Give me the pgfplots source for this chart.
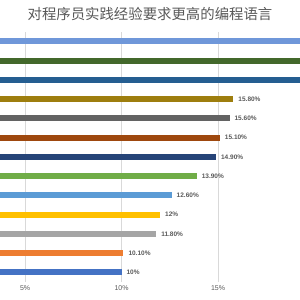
\documentclass[border=0pt]{standalone}
\usepackage{pgfplots}
\pgfplotsset{compat=1.18}
\usepackage{fontspec}
\setmainfont{Liberation Sans}
\newfontfamily\cjk{Noto Sans CJK SC}
\definecolor{c1}{HTML}{6F97D9}
\definecolor{c2}{HTML}{43682B}
\definecolor{c3}{HTML}{255E91}
\definecolor{c4}{HTML}{9E7E0E}
\definecolor{c5}{HTML}{636363}
\definecolor{c6}{HTML}{9E480E}
\definecolor{c7}{HTML}{264478}
\definecolor{c8}{HTML}{70AD47}
\definecolor{c9}{HTML}{5B9BD5}
\definecolor{c10}{HTML}{FFC000}
\definecolor{c11}{HTML}{A5A5A5}
\definecolor{c12}{HTML}{ED7D31}
\definecolor{c13}{HTML}{4472C4}
\definecolor{txt}{HTML}{595959}
\begin{document}
\begin{tikzpicture}
\useasboundingbox (0pt,0pt) rectangle (300pt,-300pt);
\node[font=\cjk\fontsize{14.4}{16}\selectfont, text=txt] at (150pt,-14pt) {对程序员实践经验要求更高的编程语言};
\begin{axis}[
  at={(0pt,-282pt)}, anchor=south west,
  scale only axis, width=300pt, height=250.25pt,
  xmin=3.7, xmax=19.25, ymin=-0.5, ymax=12.5,
  xbar, bar width=6pt, bar shift=0pt,
  axis line style={draw=none},
  ytick=\empty,
  xtick={5,10,15},
  xticklabels={5\%,10\%,15\%},
  xticklabel style={font=\fontsize{7}{8}\selectfont, text=txt},
  major tick length=0pt,
  xmajorgrids, grid style={draw=black!15, line width=0.6pt},
  nodes near coords style={font=\bfseries\fontsize{6.5}{7}\selectfont, text=txt, anchor=west, xshift=1.5pt},
]
\addplot[fill=c1, draw=none] coordinates {(22,12)};
\addplot[fill=c2, draw=none] coordinates {(21,11)};
\addplot[fill=c3, draw=none] coordinates {(20,10)};
\addplot[fill=c4, draw=none, nodes near coords={15.80\%}] coordinates {(15.8,9)};
\addplot[fill=c5, draw=none, nodes near coords={15.60\%}] coordinates {(15.6,8)};
\addplot[fill=c6, draw=none, nodes near coords={15.10\%}] coordinates {(15.1,7)};
\addplot[fill=c7, draw=none, nodes near coords={14.90\%}] coordinates {(14.9,6)};
\addplot[fill=c8, draw=none, nodes near coords={13.90\%}] coordinates {(13.9,5)};
\addplot[fill=c9, draw=none, nodes near coords={12.60\%}] coordinates {(12.6,4)};
\addplot[fill=c10, draw=none, nodes near coords={12\%}] coordinates {(12,3)};
\addplot[fill=c11, draw=none, nodes near coords={11.80\%}] coordinates {(11.8,2)};
\addplot[fill=c12, draw=none, nodes near coords={10.10\%}] coordinates {(10.1,1)};
\addplot[fill=c13, draw=none, nodes near coords={10\%}] coordinates {(10,0)};
\end{axis}
\end{tikzpicture}
\end{document}
